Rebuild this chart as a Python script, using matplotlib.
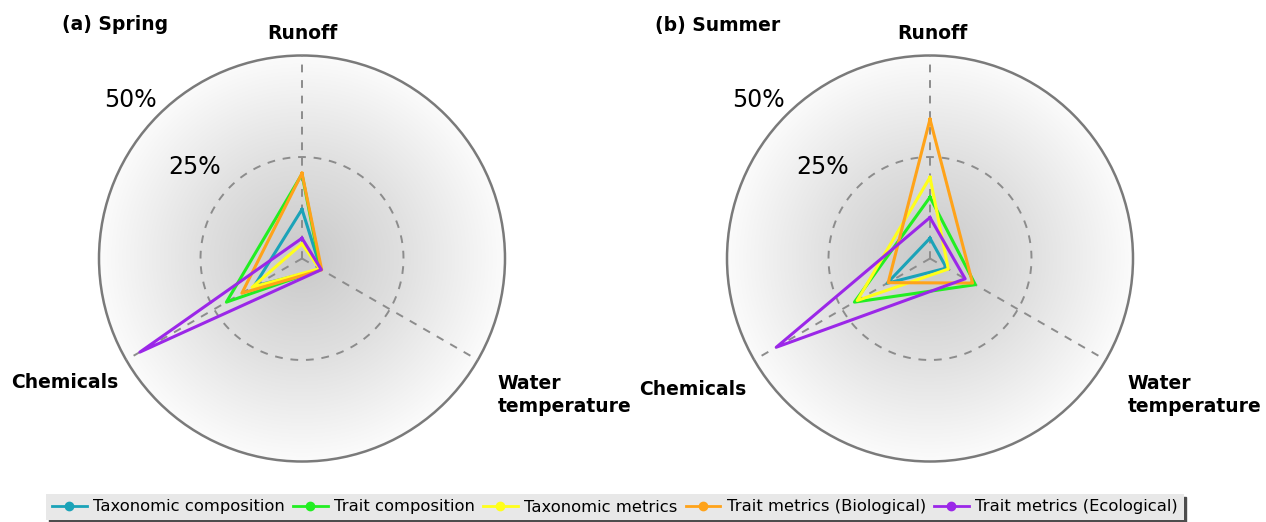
import numpy as np
import matplotlib
matplotlib.use("Agg")
import matplotlib.pyplot as plt
from matplotlib.colors import LinearSegmentedColormap
from matplotlib.lines import Line2D
from matplotlib.patches import Circle

plt.rcParams["font.family"] = ["DejaVu Sans"]

# axes: Runoff (top), Water temperature (lower right), Chemicals (lower left)
driver_labels = ["Runoff", "Water\ntemperature", "Chemicals"]
driver_angles_deg = [90, -30, 210]

series_names = [
    "Taxonomic composition",
    "Trait composition",
    "Taxonomic metrics",
    "Trait metrics (Biological)",
    "Trait metrics (Ecological)",
]
series_colors = ["#1ba3b8", "#22ee22", "#ffff1a", "#ffa31a", "#9b27e8"]

# % values per series, same order as series_names
spring_runoff = [12.1, 20.8, 3.6, 21.0, 5.0]
spring_water_temp = [5.4, 5.3, 5.0, 5.6, 5.5]
spring_chemicals = [13.6, 21.5, 14.2, 17.1, 46.1]

summer_runoff = [5.0, 15.1, 20.0, 34.3, 10.1]
summer_water_temp = [4.7, 12.9, 5.2, 12.1, 10.0]
summer_chemicals = [12.2, 21.5, 20.7, 11.9, 43.7]

r_max = 50
bg_cmap = LinearSegmentedColormap.from_list("bg", ["#c9c9c9", "#e0e0e0", "#fbfbfb"])


def add_background(fig, rect):
    # radial grey gradient behind the polar axes, outer ring drawn here too
    bg = fig.add_axes(rect, zorder=0)
    g = np.linspace(-1, 1, 400)
    X, Y = np.meshgrid(g, g)
    im = bg.imshow(np.hypot(X, Y), cmap=bg_cmap, vmin=0, vmax=1, extent=(-1, 1, -1, 1),
                   interpolation="bilinear")
    im.set_clip_path(Circle((0, 0), 1, transform=bg.transData))
    bg.add_patch(Circle((0, 0), 1, fill=False, edgecolor="#7a7a7a", lw=1.8, clip_on=False))
    bg.set_xlim(-1, 1)
    bg.set_ylim(-1, 1)
    bg.axis("off")


def draw_radar(ax, runoff, water_temp, chemicals, label_pos):
    theta = np.deg2rad(driver_angles_deg)

    ax.set_facecolor("none")
    ax.set_ylim(0, r_max)
    ax.grid(False)
    ax.set_xticks([])
    ax.set_yticks([])
    ax.tick_params(length=0)
    for sp in ax.spines.values():
        sp.set_visible(False)

    circ = np.linspace(0, 2 * np.pi, 400)
    ax.plot(circ, np.full_like(circ, 25), ls=(0, (4, 4)), color="#8c8c8c", lw=1.4, zorder=1)
    for a in theta:
        ax.plot([a, a], [0, r_max], ls=(0, (4, 4)), color="#8c8c8c", lw=1.4, zorder=1)

    for i, color in enumerate(series_colors):
        vals = [runoff[i], water_temp[i], chemicals[i], runoff[i]]
        ax.plot(np.append(theta, theta[0]), vals, color=color, lw=2.2, zorder=3 + i)

    for text, (ang, rad, ha) in zip(driver_labels, label_pos):
        ax.text(np.deg2rad(ang), rad, text, ha=ha, va="center", fontsize=13.5,
                fontweight="bold", clip_on=False, linespacing=1.3)

    ax.text(np.deg2rad(139.5), 34.7, "25%", ha="center", va="center", fontsize=17, clip_on=False)
    ax.text(np.deg2rad(137.3), 57.6, "50%", ha="center", va="center", fontsize=17, clip_on=False)


fig = plt.figure(figsize=(12.66, 5.22), dpi=100)
W, H = 1266, 522
rad_px = 203

rect1 = [(302 - rad_px) / W, (H - 258.5 - rad_px) / H, 2 * rad_px / W, 2 * rad_px / H]
rect2 = [(930 - rad_px) / W, (H - 258.5 - rad_px) / H, 2 * rad_px / W, 2 * rad_px / H]

add_background(fig, rect1)
add_background(fig, rect2)
ax1 = fig.add_axes(rect1, projection="polar", zorder=1)
ax2 = fig.add_axes(rect2, projection="polar", zorder=1)

draw_radar(ax1, spring_runoff, spring_water_temp, spring_chemicals,
           [(90, 55.3, "center"), (-34.9, 58.8, "left"), (207.7, 65.9, "center")])
draw_radar(ax2, summer_runoff, summer_water_temp, summer_chemicals,
           [(89.3, 55.3, "center"), (-34.6, 59.2, "left"), (209.0, 66.7, "center")])

fig.text(62 / W, 1 - 25 / H, "(a) Spring", fontsize=13.5, fontweight="bold", va="center")
fig.text(655 / W, 1 - 25 / H, "(b) Summer", fontsize=13.5, fontweight="bold", va="center")

handles = [Line2D([], [], color=c, lw=2, marker="o", markersize=6) for c in series_colors]
fig.legend(handles, series_names, loc="center", bbox_to_anchor=(615 / W, 1 - 507 / H), ncol=5,
           fontsize=11.8, frameon=True, fancybox=False, facecolor="#e8e8e8", edgecolor="none",
           framealpha=1, shadow={"color": "0.3", "alpha": 1}, handlelength=2.1,
           handletextpad=0.4, columnspacing=0.5, borderpad=0.35, borderaxespad=0)

fig.savefig("out.png", dpi=100)
